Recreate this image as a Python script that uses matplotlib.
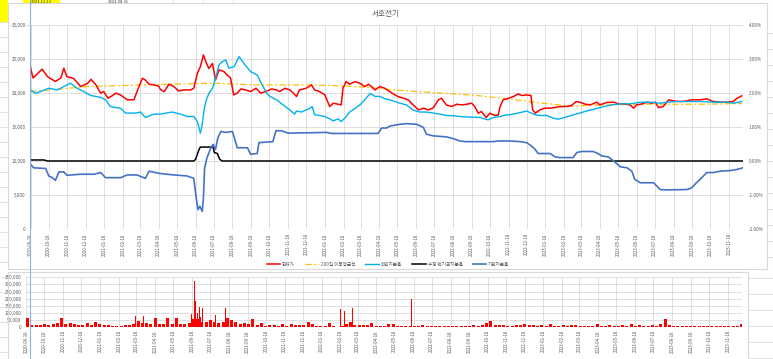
import matplotlib
matplotlib.use("Agg")
import matplotlib.pyplot as plt
import matplotlib.ticker as mticker
from matplotlib.lines import Line2D
from matplotlib.patches import Rectangle
import pandas as pd

plt.rcParams['font.family'] = ['Noto Sans CJK KR', 'DejaVu Sans']

W, H = 773, 359
TITLE = "서호전기"
LABELS = ["현재가", "200일 이동평균선", "외인지분율", "수정 연기금지분율", "기관지분율"]
COLORS = ["#FF0000", "#FFC000", "#00B0F0", "#000000", "#4472C4"]

price_dates = ["2020-09-18","2020-09-22","2020-10-07","2020-10-16","2020-10-29","2020-11-07","2020-11-12","2020-11-17","2020-11-28","2020-12-10","2020-12-21","2020-12-27","2021-01-04","2021-01-12","2021-01-17","2021-01-24","2021-01-31","2021-02-06","2021-02-14","2021-02-25","2021-03-08","2021-03-13","2021-03-22","2021-03-27","2021-04-02","2021-04-10","2021-04-18","2021-04-21","2021-04-27","2021-05-05","2021-05-13","2021-05-21","2021-05-30","2021-06-10","2021-06-15","2021-06-21","2021-06-26","2021-07-01","2021-07-05","2021-07-10","2021-07-16","2021-07-21","2021-07-27","2021-08-04","2021-08-09","2021-08-15","2021-08-20","2021-08-26","2021-09-01","2021-09-09","2021-09-17","2021-09-26","2021-10-04","2021-10-12",
    "2021-10-22","2021-10-30","2021-11-04","2021-11-13","2021-11-21","2021-11-27","2021-12-02","2021-12-07","2021-12-18","2021-12-27","2022-01-01","2022-01-09","2022-01-18","2022-01-26","2022-02-01","2022-02-09","2022-02-14","2022-02-17","2022-02-22","2022-02-28","2022-03-09","2022-03-17","2022-03-25","2022-03-31","2022-04-05","2022-04-11","2022-04-19","2022-04-27","2022-05-05","2022-05-14","2022-05-19","2022-05-28","2022-06-05","2022-06-13","2022-06-22","2022-06-30","2022-07-08","2022-07-16","2022-07-25","2022-07-30","2022-08-07","2022-08-16","2022-08-24","2022-09-01","2022-09-10","2022-09-18","2022-09-23","2022-09-29","2022-10-04","2022-10-12","2022-10-18","2022-10-27","2022-11-01","2022-11-04","2022-11-09","2022-11-18",
    "2022-11-26","2022-12-04","2022-12-10","2022-12-18","2022-12-25","2022-12-28","2023-01-01","2023-01-09","2023-01-17","2023-01-26","2023-02-03","2023-02-11","2023-02-22","2023-03-02","2023-03-10","2023-03-16","2023-03-25","2023-04-02","2023-04-13","2023-04-18","2023-04-29","2023-05-11","2023-05-19","2023-05-27","2023-06-07","2023-06-13","2023-06-18","2023-06-27","2023-07-05","2023-07-13","2023-07-19","2023-07-24","2023-08-01","2023-08-10","2023-08-18","2023-08-29","2023-09-09","2023-09-17","2023-10-01","2023-10-12","2023-10-23","2023-11-03","2023-11-14","2023-11-25","2023-12-01","2023-12-09"]
price_vals = [23700,22200,23500,22400,21700,22200,23640,22400,22150,20950,21400,22000,21200,19970,20200,19230,19600,19970,19700,19000,19000,20200,22170,21900,21300,21200,21000,20500,20200,21300,20950,20300,20450,20450,20700,22900,23880,25600,24600,23600,24350,21930,23400,23150,22680,22200,19720,19970,20600,20450,20210,20700,19970,20210,
    20600,20450,20210,20700,20450,19970,19480,20450,20700,21190,20450,20210,19720,18010,18500,18350,18250,20700,21680,21290,21680,21440,20950,21290,20950,20450,20950,20700,20210,19720,19480,19230,18990,18250,17520,17770,17520,17770,18990,19230,18250,18010,18350,18250,18350,18500,18010,17030,17280,16400,17030,16690,16790,18010,18990,19230,
    19480,19870,19630,19720,19630,17520,17030,17520,17770,17770,17860,18010,18010,18160,18740,18650,18350,18250,18650,18250,18600,18650,18400,18400,18250,17770,18250,18400,18650,18500,18650,17860,18010,18990,18840,18740,18840,18990,18990,19140,18740,18650,18650,18740,19230,19580]

ma_dates = ["2020-09-18","2020-12-21","2021-05-08","2021-07-18","2021-09-23","2021-12-24","2022-02-17","2022-04-03","2022-05-11","2022-06-19","2022-08-02","2022-09-26","2022-11-18","2022-12-01","2022-12-29","2023-03-02","2023-04-18","2023-07-10","2023-10-01","2023-12-09"]
ma_vals = [20210,20950,21290,21440,21190,21190,21040,20800,20460,20210,19970,19630,19140,18990,18650,18050,18250,18350,18350,18450]

foreign_dates = ["2020-09-18","2020-09-26","2020-10-04","2020-10-18","2020-11-01","2020-11-12","2020-11-23","2020-12-04","2020-12-15","2020-12-26","2021-01-12","2021-01-20","2021-01-28","2021-02-14","2021-02-22","2021-03-11","2021-03-19","2021-03-27","2021-04-10","2021-04-21","2021-05-10","2021-05-24","2021-06-04","2021-06-15","2021-06-21","2021-06-26","2021-06-29","2021-07-02","2021-07-05","2021-07-10","2021-07-16","2021-07-21","2021-07-27","2021-08-01","2021-08-07","2021-08-12","2021-08-21","2021-08-29","2021-09-06","2021-09-17","2021-09-28","2021-10-06","2021-10-14",
    "2021-10-19","2021-10-30","2021-11-10","2021-11-21","2021-11-29","2021-12-02","2021-12-10","2021-12-18","2021-12-24","2021-12-28","2022-01-01","2022-01-09","2022-01-18","2022-01-26","2022-02-01","2022-02-09","2022-02-14","2022-02-20","2022-02-28","2022-03-09","2022-03-17","2022-03-25","2022-04-03","2022-04-11","2022-04-19","2022-04-27","2022-05-05","2022-05-14","2022-05-22","2022-06-02","2022-06-13","2022-06-24","2022-07-05","2022-07-16","2022-07-27","2022-08-07","2022-08-18","2022-08-29","2022-09-15","2022-10-02","2022-10-15","2022-10-24","2022-11-04","2022-11-15",
    "2022-11-20","2022-12-04","2022-12-18","2022-12-29","2023-01-06","2023-01-20","2023-01-31","2023-02-08","2023-02-19","2023-03-02","2023-03-16","2023-03-27","2023-04-10","2023-04-24","2023-05-08","2023-05-22","2023-06-07","2023-06-24","2023-07-10","2023-07-27","2023-08-07","2023-08-24","2023-09-09","2023-10-01","2023-10-23","2023-11-14","2023-11-25","2023-12-09"]
foreign_pct = [2.09,1.99,2.04,2.14,2.09,2.19,2.29,2.14,2.04,1.93,1.87,1.80,1.60,1.55,1.41,1.41,1.44,1.28,1.38,1.38,1.44,1.38,1.31,1.31,1.16,0.82,1.06,1.50,1.75,1.99,2.14,2.43,2.83,2.92,2.97,2.73,2.78,3.07,2.87,2.63,2.53,2.24,1.99,
    1.90,1.80,1.65,1.50,1.38,1.47,1.44,1.50,1.55,1.60,1.36,1.34,1.31,1.24,1.18,1.24,1.16,1.26,1.44,1.55,1.65,1.80,1.99,1.90,1.90,1.83,1.80,1.75,1.70,1.65,1.50,1.44,1.44,1.41,1.38,1.34,1.33,1.31,1.29,1.28,1.21,1.28,1.31,1.36,
    1.36,1.41,1.47,1.38,1.34,1.34,1.26,1.23,1.28,1.34,1.41,1.47,1.53,1.60,1.65,1.68,1.68,1.73,1.73,1.70,1.73,1.75,1.75,1.75,1.73,1.73,1.70,1.75]

pension_dates = ["2020-09-18","2020-10-10","2020-10-16","2021-06-15","2021-06-18","2021-06-24","2021-06-26","2021-07-17","2021-07-19","2021-07-24","2021-07-28","2021-08-01","2023-12-11"]
pension_pct = [0.03,0.03,0.00,0.00,0.05,0.35,0.41,0.41,0.25,0.22,0.05,0.00,0.00]

inst_dates = ["2020-09-18","2020-09-23","2020-10-13","2020-10-18","2020-10-24","2020-10-29","2020-11-04","2020-11-12","2020-11-17","2020-12-09","2021-01-01","2021-01-12","2021-01-20","2021-02-14","2021-02-25","2021-03-13","2021-03-27","2021-04-02","2021-04-21","2021-05-13","2021-06-04","2021-06-15","2021-06-19","2021-06-22","2021-06-25","2021-06-29","2021-07-01","2021-07-03","2021-07-07","2021-07-13","2021-07-17","2021-07-21","2021-07-25","2021-07-30","2021-08-07","2021-08-18","2021-08-26","2021-09-12","2021-09-17","2021-09-28","2021-10-01","2021-10-24","2021-10-29","2021-11-07","2021-11-18","2022-01-21","2022-01-29","2022-04-16","2022-04-22","2022-04-30","2022-05-06","2022-05-22","2022-06-02","2022-06-19","2022-06-30","2022-07-05","2022-07-16","2022-08-07","2022-08-18","2022-08-29","2022-09-07","2022-10-24","2022-11-01","2022-11-18","2022-12-07","2022-12-18","2022-12-26","2023-01-01","2023-01-06","2023-01-26","2023-02-03","2023-02-11","2023-03-05","2023-03-11","2023-03-19","2023-04-07","2023-04-15","2023-04-21","2023-05-02","2023-05-11","2023-05-22","2023-06-02","2023-06-10","2023-06-15","2023-06-24","2023-07-16","2023-07-27","2023-08-07","2023-09-09","2023-09-17","2023-09-25","2023-10-01","2023-10-12","2023-10-23","2023-11-03","2023-11-20","2023-12-01","2023-12-11"]
inst_pct = [-0.10,-0.20,-0.22,-0.44,-0.49,-0.57,-0.32,-0.32,-0.42,-0.39,-0.39,-0.34,-0.49,-0.49,-0.41,-0.41,-0.51,-0.30,-0.37,-0.41,-0.44,-0.51,-1.08,-1.43,-1.33,-1.48,-1.08,-0.20,0.10,0.37,0.49,0.34,0.69,0.87,0.84,0.87,0.39,0.39,0.20,0.22,0.54,0.57,0.89,0.89,0.82,0.84,0.81,0.81,0.97,0.97,1.03,1.08,1.10,1.08,0.99,0.79,0.74,0.71,0.66,0.59,0.57,0.57,0.59,0.59,0.57,0.54,0.44,0.34,0.22,0.22,0.12,0.10,0.10,0.25,0.28,0.28,0.22,0.15,0.12,0.00,-0.17,-0.20,-0.30,-0.54,-0.64,-0.64,-0.84,-0.85,-0.84,-0.79,-0.64,-0.54,-0.34,-0.34,-0.30,-0.28,-0.25,-0.20]

vol_first_week = "2020-09-18"
vol_weekly = [67000,16000,14000,16000,21000,16000,21000,28000,63000,23000,
    28000,23000,18000,16000,33000,18000,40000,23000,16000,14000,
    10000,9000,12000,16000,14000,20000,44000,28000,28000,23000,
    63000,21000,21000,63000,23000,63000,23000,26000,30000,60000,
    60000,40000,40000,51000,40000,28000,40000,63000,51000,40000,
    23000,28000,21000,56000,16000,28000,12000,16000,16000,12000,
    21000,12000,21000,16000,16000,14000,35000,21000,12000,9000,
    9000,28000,7000,5000,12000,20000,40000,16000,16000,16000,
    14000,28000,12000,12000,12000,21000,21000,12000,10000,10000,
    10000,10000,10000,14000,8000,8000,8000,8000,8000,12000,
    10000,8000,8000,8000,10000,16000,10000,19000,28000,47000,
    16000,19000,14000,12000,12000,16000,16000,21000,16000,16000,
    10000,16000,10000,21000,12000,10000,16000,10000,16000,14000,
    10000,8000,8000,10000,21000,8000,10000,14000,10000,8000,
    14000,10000,26000,12000,14000,10000,8000,14000,10000,21000,
    57000,16000,12000,10000,10000,8000,10000,8000,10000,10000,
    8000,8000,10000,10000,8000,10000,8000,10000,21000]
vol_spike_dates = ["2021-03-17","2021-03-30","2021-06-17","2021-06-22","2021-06-24","2021-06-28","2021-06-30","2021-07-02","2021-07-06","2021-07-27","2021-08-12","2022-02-17","2022-02-25","2022-03-09","2022-06-14"]
vol_spike_vals = [79000,82000,93000,324000,187000,98000,145000,75000,133000,86000,133000,126000,114000,133000,196000]

X_START, X_END = "2020-09-17", "2023-12-11"
FIRST_TICK, LAST_TICK = "2020-09-18", "2023-11-18"

GRID = "#D9D9D9"
TXT = "#595959"

def fx(x):
    return x / W

def fy(y):
    return 1 - y / H

fig = plt.figure(figsize=(W / 100, H / 100), dpi=100)
fig.patch.set_facecolor("white")

# spreadsheet surroundings
fig.add_artist(Rectangle((0, fy(22)), fx(8), 22 / H, transform=fig.transFigure, fc="#FFFF00", ec="none"))
fig.add_artist(Rectangle((fx(23), fy(3.5)), (60 - 23) / W, 3.5 / H, transform=fig.transFigure, fc="#FFFF00", ec="none"))
fig.text(fx(41), fy(2.4), "2023.12.13", fontsize=3.0, ha="center", va="center", color="#333333")
fig.text(fx(118), fy(2.4), "2021.08.31", fontsize=3.0, ha="center", va="center", color="#333333")
for yy in range(22, 360, 15):
    fig.add_artist(Line2D([0, fx(8)], [fy(yy), fy(yy)], transform=fig.transFigure, color="#D4D4D4", lw=0.5))
for yy in range(33, 270, 16):
    fig.add_artist(Line2D([fx(767), 1], [fy(yy), fy(yy)], transform=fig.transFigure, color="#D4D4D4", lw=0.5))
for yy in range(278, 360, 16):
    fig.add_artist(Line2D([fx(748), 1], [fy(yy), fy(yy)], transform=fig.transFigure, color="#D4D4D4", lw=0.5))
for xx in (173, 203, 233):
    fig.add_artist(Line2D([fx(xx), fx(xx)], [fy(0), fy(3)], transform=fig.transFigure, color="#D4D4D4", lw=0.5))

# chart area frames
fig.add_artist(Rectangle((fx(8), fy(269)), (767 - 8) / W, (269 - 3.3) / H, transform=fig.transFigure,
                         fill=False, ec=GRID, lw=0.8))
fig.add_artist(Rectangle((fx(8), fy(362)), (748 - 8) / W, (362 - 272) / H, transform=fig.transFigure,
                         fill=False, ec=GRID, lw=0.8))
fig.add_artist(Line2D([fx(8), fx(30)], [fy(24.5), fy(24.5)], transform=fig.transFigure, color=GRID, lw=0.6))

fig.text(fx(385.5), fy(14), TITLE, ha="center", va="center", fontsize=5.5, color=TXT)

ticks = pd.date_range(FIRST_TICK, LAST_TICK, freq=pd.DateOffset(months=1))
tick_labels = [d.strftime("%Y-%m-%d") for d in ticks]

# ---- main chart ----
ax = fig.add_axes([fx(30), fy(229), (743 - 30) / W, (229 - 25) / H])
ax.set_xlim(pd.Timestamp(X_START), pd.Timestamp(X_END))
ax.set_ylim(0, 30000)
ax.set_yticks(range(0, 30001, 5000))
ax.yaxis.set_major_formatter(mticker.FuncFormatter(lambda v, p: f"{v:,.0f}"))
ax.set_xticks(ticks)
ax.set_xticklabels(tick_labels, rotation=90, fontsize=3.1, color=TXT)
ax.tick_params(axis="y", length=0, labelsize=3.3, colors=TXT, pad=3)
ax.tick_params(axis="x", length=0, pad=3)
ax.grid(True, color=GRID, lw=0.6)
ax.set_axisbelow(True)
for s in ax.spines.values():
    s.set_visible(False)

ax.plot(pd.to_datetime(ma_dates), ma_vals, color=COLORS[1], lw=0.9, ls=(0, (5, 2, 1.5, 2)), zorder=2)
ax.plot(pd.to_datetime(price_dates), price_vals, color=COLORS[0], lw=1.1, zorder=3)

ax2 = ax.twinx()
ax2.set_ylim(-2, 4)
ax2.set_yticks([-2, -1, 0, 1, 2, 3, 4])
ax2.yaxis.set_major_formatter(mticker.FuncFormatter(lambda v, p: f"{v:.2f}%"))
ax2.tick_params(axis="y", length=0, labelsize=3.3, colors=TXT, pad=4)
for s in ax2.spines.values():
    s.set_visible(False)
ax2.plot(pd.to_datetime(foreign_dates), foreign_pct, color=COLORS[2], lw=1.0)
ax2.plot(pd.to_datetime(pension_dates), pension_pct, color=COLORS[3], lw=1.1)
ax2.plot(pd.to_datetime(inst_dates), inst_pct, color=COLORS[4], lw=1.2)
ax2.set_xlim(pd.Timestamp(X_START), pd.Timestamp(X_END))

handles = [Line2D([], [], color=COLORS[0], lw=1.1),
           Line2D([], [], color=COLORS[1], lw=0.9, ls=(0, (5, 2, 1.5, 2))),
           Line2D([], [], color=COLORS[2], lw=1.0),
           Line2D([], [], color=COLORS[3], lw=1.1),
           Line2D([], [], color=COLORS[4], lw=1.2)]
fig.legend(handles, LABELS, loc="center", bbox_to_anchor=(fx(388), fy(264.5)), ncol=5, frameon=False,
           fontsize=3.3, handlelength=3.0, handletextpad=0.4, columnspacing=2.2, labelcolor=TXT,
           borderpad=0, borderaxespad=0)

# ---- volume chart ----
ax3 = fig.add_axes([fx(25.5), fy(327.3), (742 - 25.5) / W, (327.3 - 277.3) / H])
ax3.set_xlim(pd.Timestamp(X_START), pd.Timestamp(X_END))
ax3.set_ylim(0, 350000)
ax3.set_yticks(range(0, 350001, 50000))
ax3.yaxis.set_major_formatter(mticker.FuncFormatter(lambda v, p: f"{v:,.0f}"))
ax3.set_xticks(ticks)
ax3.set_xticklabels(tick_labels, rotation=90, fontsize=3.1, color=TXT)
ax3.tick_params(axis="y", length=0, labelsize=3.3, colors=TXT, pad=3)
ax3.tick_params(axis="x", length=0, pad=2)
ax3.grid(True, color=GRID, lw=0.6)
ax3.set_axisbelow(True)
for s in ax3.spines.values():
    s.set_visible(False)
week_dates = pd.date_range(vol_first_week, periods=len(vol_weekly), freq="7D")
ax3.bar(week_dates, vol_weekly, width=5.0, align="edge", color="#FF0000", lw=0)
ax3.bar(pd.to_datetime(vol_spike_dates), vol_spike_vals, width=1.6, color="#FF0000", lw=0)

# selection line of the sheet
fig.add_artist(Line2D([fx(30), fx(30)], [0, 1], transform=fig.transFigure, color="#8AB4E8", lw=0.8))

fig.savefig("out.png", dpi=100, facecolor="white")
